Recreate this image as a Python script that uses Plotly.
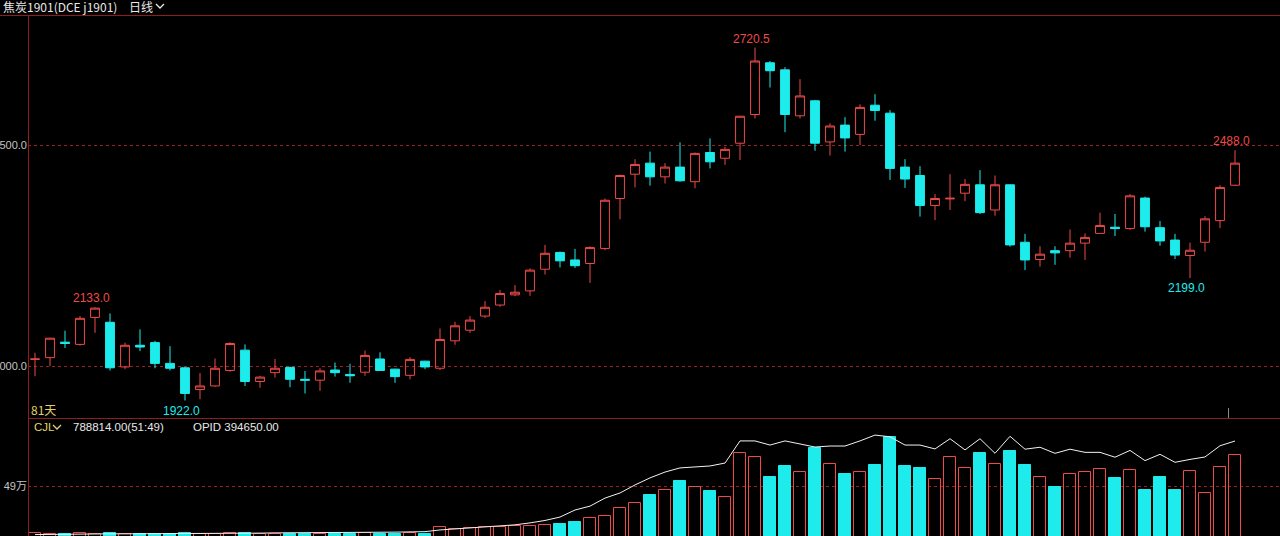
import plotly.graph_objects as go

# ---------------- data ----------------
days = list(range(81))
opens = [2015, 2019, 2054, 2049, 2110, 2099, 1998, 2047, 2053, 2006,
         1996, 1947, 1955, 1990, 2036, 1965, 1985, 1997, 1970, 1968,
         1991, 1981, 1986, 2016, 1993, 1979, 2011, 1995, 2057, 2081,
         2113, 2138, 2161, 2170, 2219, 2257, 2240, 2232, 2266, 2379,
         2434, 2459, 2428, 2450, 2417, 2483, 2470, 2504, 2569, 2686,
         2670, 2566, 2600, 2507, 2545, 2524, 2590, 2572, 2450, 2431,
         2363, 2378, 2391, 2410, 2353, 2410, 2280, 2241, 2261, 2261,
         2278, 2300, 2314, 2311, 2380, 2313, 2285, 2250, 2280, 2329,
         2409]
highs = [2030, 2064, 2080, 2113, 2133, 2119, 2053, 2083, 2057, 2045,
         1998, 1984, 2017, 2054, 2049, 1978, 2016, 1998, 1989, 1995,
         2008, 2005, 2035, 2031, 1994, 2020, 2012, 2085, 2100, 2113,
         2147, 2172, 2183, 2221, 2274, 2259, 2265, 2271, 2379, 2433,
         2468, 2485, 2459, 2506, 2483, 2515, 2496, 2566, 2720.5, 2690,
         2676, 2649, 2602, 2549, 2563, 2592, 2615, 2579, 2468, 2452,
         2389, 2434, 2423, 2443, 2431, 2411, 2299, 2271, 2271, 2309,
         2300, 2347, 2344, 2389, 2383, 2328, 2299, 2279, 2339, 2409,
         2488]
lows = [1977, 2000, 2041, 2046, 2075, 1990, 1993, 2034, 1995, 1990,
        1922, 1925, 1953, 1987, 1955, 1951, 1974, 1952, 1938, 1944,
        1976, 1962, 1978, 1989, 1962, 1970, 1993, 1991, 2048, 2075,
        2109, 2134, 2158, 2159, 2207, 2223, 2222, 2188, 2262, 2332,
        2404, 2408, 2413, 2417, 2402, 2447, 2455, 2466, 2560, 2630,
        2529, 2560, 2487, 2476, 2485, 2500, 2555, 2421, 2403, 2338,
        2330, 2353, 2373, 2344, 2340, 2270, 2217, 2225, 2229, 2245,
        2240, 2300, 2294, 2308, 2304, 2272, 2242, 2199, 2259, 2312,
        2407]
closes = [2016, 2063, 2051, 2108, 2131, 1996, 2047, 2043, 2006, 1995,
          1938, 1955, 1995, 2051, 1965, 1975, 1995, 1970, 1968, 1989,
          1985, 1978, 2024, 1990, 1976, 2015, 1998, 2060, 2091, 2104,
          2133, 2164, 2167, 2217, 2255, 2238, 2227, 2268, 2375, 2431,
          2456, 2428, 2450, 2419, 2481, 2462, 2490, 2565, 2690, 2668,
          2569, 2611, 2504, 2543, 2516, 2585, 2578, 2447, 2423, 2363,
          2379, 2379.5, 2411, 2347, 2410, 2274, 2240, 2253, 2256, 2278,
          2291, 2318, 2311, 2385, 2315, 2283, 2251, 2262, 2333, 2404,
          2459]
# volume (CJL) in 10k lots
volume = [3.5, 3.0, 2.5, 3.5, 3.0, 4.0, 3.0, 2.5, 3.0, 2.5,
          3.5, 3.0, 3.0, 3.5, 3.5, 2.5, 2.5, 3.0, 2.5, 3.0,
          2.5, 2.5, 3.5, 3.0, 3.0, 3.5, 3.0, 9.6, 7.7, 8.6,
          9.6, 9.6, 10.6, 10.6, 11.5, 12.5, 14.4, 18.3, 20.2, 27.9,
          32.7, 40.4, 45.2, 53.8, 48.0, 44.2, 38.4, 80.7, 76.9, 57.7,
          68.2, 62.5, 85.6, 70.2, 60.5, 62.5, 69.2, 96.4, 68.2, 66.3,
          55.4, 76.6, 66.0, 80.7, 69.8, 82.6, 69.2, 57.4, 48.0, 60.2,
          62.2, 65.0, 56.7, 64.1, 45.2, 57.6, 45.2, 63.1, 42.0, 67.0,
          78.8814]
# open interest (OPID) in 10k lots
open_int = [1.0, 1.1, 1.1, 1.2, 1.2, 1.3, 1.3, 1.3, 1.4, 1.4,
            1.5, 1.5, 1.5, 1.6, 1.6, 1.6, 1.7, 1.7, 1.7, 1.8,
            1.8, 1.9, 1.9, 2.0, 2.0, 2.1, 2.2, 2.9, 3.3, 3.7,
            4.0, 4.5, 5.0, 5.8, 6.8, 8.2, 11.1, 12.7, 16.0, 18.1,
            21.4, 24.3, 26.7, 28.4, 28.8, 29.2, 30.4, 39.5, 39.5, 37.8,
            39.5, 38.2, 37.0, 37.4, 37.4, 39.5, 41.9, 41.2, 37.8, 37.8,
            36.2, 40.4, 35.8, 40.4, 34.4, 41.4, 36.1, 36.9, 34.4, 36.1,
            34.8, 34.8, 32.8, 35.6, 31.4, 34.0, 30.7, 31.9, 32.9, 37.5,
            39.465]
high_labels = [4, 48, 80]
low_labels = [10, 77]
vol_tick = [49]
vol_ticktext = ["49万"]
price_ticks = [2000, 2500]

# ---------------- geometry helpers ----------------
W, H = 1280, 536
ML, MT = 28, 16
PW, PH = W - ML, H - MT


def px(x):
    return (x - ML) / PW


def py(y):
    return (H - y) / PH


RED = "#ee4a48"
CYAN = "#1eecec"
BORDER = "#8e1e1e"
GRID = "#9a2424"
YELLOW = "#e2d26c"
TXT = "#e8e8e8"
TICK = "#c4c4c4"

split = py(418)

fig = go.Figure()
fig.add_trace(go.Candlestick(
    x=days, open=opens, high=highs, low=lows, close=closes,
    increasing=dict(line=dict(color=RED, width=1), fillcolor="rgba(0,0,0,0)"),
    decreasing=dict(line=dict(color=CYAN, width=1), fillcolor=CYAN),
    whiskerwidth=0, hoverinfo="skip", xaxis="x", yaxis="y"))

up = [c >= o for o, c in zip(opens, closes)]
fig.add_trace(go.Bar(
    x=days, y=volume, width=0.82,
    marker=dict(color=["rgba(0,0,0,0)" if u else CYAN for u in up],
                line=dict(color=[RED if u else CYAN for u in up], width=1)),
    hoverinfo="skip", xaxis="x2", yaxis="y2"))
fig.add_trace(go.Scatter(
    x=days, y=open_int, mode="lines", line=dict(color="#f2f2f2", width=1),
    hoverinfo="skip", xaxis="x2", yaxis="y3"))

xr = [-7 / 15, -7 / 15 + PW / 15]
axis_common = dict(showgrid=False, zeroline=False, showline=False,
                   showticklabels=False, fixedrange=True, automargin=False)
tickfont = dict(family="Liberation Sans, Noto Sans CJK SC", size=11, color=TICK)

fig.update_layout(
    width=W, height=H,
    margin=dict(l=ML, r=0, t=MT, b=0),
    paper_bgcolor="black", plot_bgcolor="black",
    showlegend=False, boxgap=0.16, bargap=0,
    xaxis=dict(range=xr, domain=[0, 1], anchor="y",
               rangeslider=dict(visible=False), **axis_common),
    xaxis2=dict(range=xr, domain=[0, 1], anchor="y2", matches="x", **axis_common),
    yaxis=dict(domain=[split, 1], range=[2500 - (418 - 145) * 2.262, 2500 + (145 - 16) * 2.262],
               tickvals=price_ticks, ticktext=[f"{v:.1f}" for v in price_ticks],
               showticklabels=True, ticks="", tickfont=tickfont,
               showgrid=True, gridcolor=GRID, griddash="dot", gridwidth=1,
               zeroline=False, showline=False, automargin=False, fixedrange=True),
    yaxis2=dict(domain=[0, split], range=[(537 - 536) * 0.9608, (537 - 418) * 0.9608],
                tickvals=vol_tick, ticktext=vol_ticktext,
                showticklabels=True, ticks="", tickfont=tickfont,
                showgrid=True, gridcolor=GRID, griddash="dot", gridwidth=1,
                zeroline=False, showline=False, automargin=False, fixedrange=True),
    yaxis3=dict(overlaying="y2", range=[(537 - 536) * 0.4111, (537 - 418) * 0.4111],
                visible=False, fixedrange=True),
)

shapes = []
# frame lines
shapes.append(dict(type="line", xref="paper", yref="paper", x0=px(0), x1=1,
                   y0=py(15.5), y1=py(15.5), line=dict(color=BORDER, width=1)))
shapes.append(dict(type="line", xref="paper", yref="paper", x0=px(28.5), x1=px(28.5),
                   y0=0, y1=py(15.5), line=dict(color=BORDER, width=1)))
shapes.append(dict(type="line", xref="paper", yref="paper", x0=px(28), x1=1,
                   y0=py(418.5), y1=py(418.5), line=dict(color=BORDER, width=1)))
# cursor tick
shapes.append(dict(type="line", xref="paper", yref="paper", x0=px(1228.5), x1=px(1228.5),
                   y0=py(418), y1=py(408), line=dict(color="#8a8a8a", width=1)))
# chevrons
def chevron(x, y, color):
    return dict(type="path", xref="paper", yref="paper",
                path=f"M {px(x)},{py(y)} L {px(x+4)},{py(y+4)} L {px(x+8)},{py(y)}",
                line=dict(color=color, width=1.3))
shapes.append(chevron(156, 4, TXT))
shapes.append(chevron(53, 425, YELLOW))
fig.update_layout(shapes=shapes)

ann = []
def label(x, y, text, color, size=12, family="Noto Sans CJK SC"):
    ann.append(dict(xref="paper", yref="paper", x=px(x), y=py(y), text=text,
                    showarrow=False, xanchor="left", yanchor="middle",
                    font=dict(family=family, size=size, color=color)))

label(1, 6, "焦炭1901(DCE j1901)", TXT, 12)
label(127, 6, "日线", TXT, 12)
label(29, 409, "81天", YELLOW, 12)
label(32, 427, "CJL", YELLOW, 11.5, "Liberation Sans")
label(71, 427, f"{volume[-1] * 10000:.2f}(51:49)", TXT, 11.5, "Liberation Sans")
label(191, 427, f"OPID {open_int[-1] * 10000:.2f}", TXT, 11.5, "Liberation Sans")

for i in high_labels:
    ann.append(dict(x=days[i], y=highs[i], xref="x", yref="y", text=f"{highs[i]:.1f}",
                    showarrow=False, yanchor="bottom", xanchor="center", xshift=-4, yshift=0,
                    font=dict(family="Liberation Sans", size=12, color=RED)))
for i in low_labels:
    ann.append(dict(x=days[i], y=lows[i], xref="x", yref="y", text=f"{lows[i]:.1f}",
                    showarrow=False, yanchor="top", xanchor="center", xshift=-4, yshift=-1,
                    font=dict(family="Liberation Sans", size=12, color=CYAN)))
fig.update_layout(annotations=ann)

fig.write_html("out.html", config={"displayModeBar": False},
               post_script="document.body.style.margin='0px';document.body.style.overflow='hidden';document.body.style.background='black';")
